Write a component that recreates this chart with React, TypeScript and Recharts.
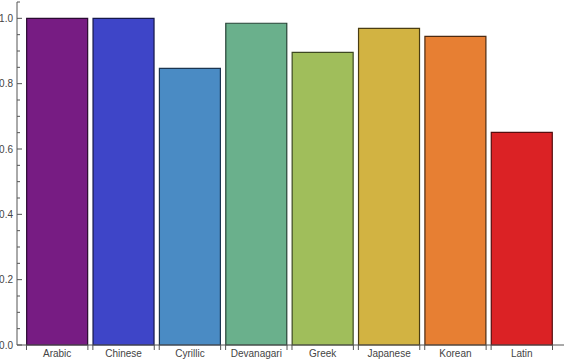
import { BarChart, Bar, Cell, XAxis, YAxis } from "recharts";

const scripts = ["Arabic", "Chinese", "Cyrillic", "Devanagari", "Greek", "Japanese", "Korean", "Latin"];
const scores = [1.0, 1.0, 0.847, 0.985, 0.896, 0.969, 0.945, 0.651];
const fills = ["#771c83", "#3e45c8", "#4a8bc4", "#6ab08c", "#a0be5b", "#d2b342", "#e77f33", "#db2225"];
const edges = ["#2a0a30", "#15184a", "#1b3550", "#274236", "#3d4822", "#4a3d12", "#4d2a10", "#550d0e"];
const yTicks = [0, 0.05, 0.1, 0.15, 0.2, 0.25, 0.3, 0.35, 0.4, 0.45, 0.5, 0.55, 0.6, 0.65, 0.7, 0.75, 0.8, 0.85, 0.9, 0.95, 1.0, 1.05];

const AXIS = "#555";
const FONT = "'Liberation Sans', Arial, sans-serif";
const HALF_BAR = 30.7;

const data = scripts.map((name, i) => ({ name, score: scores[i] }));

// y ticks: long with label on multiples of 0.2, short minor ones otherwise
function YTick(props: any) {
  const { x, y, payload } = props;
  const v = payload.value;
  const major = Math.abs(v * 5 - Math.round(v * 5)) < 1e-6;
  return (
    <g>
      <line x1={x} x2={x + (major ? 5 : 3)} y1={y} y2={y} stroke={AXIS} strokeWidth={1} />
      {major && v <= 1 && (
        <text x={x - 4} y={y} dy={3.5} textAnchor="end" fontSize={10} fill="#444" fontFamily={FONT}>
          {v.toFixed(1)}
        </text>
      )}
    </g>
  );
}

// category label plus little marks at both bar edges
function XTick(props: any) {
  const { x, y, payload } = props;
  return (
    <g>
      <line x1={x - HALF_BAR} x2={x - HALF_BAR} y1={y} y2={y + 5} stroke={AXIS} />
      <line x1={x + HALF_BAR} x2={x + HALF_BAR} y1={y} y2={y + 5} stroke={AXIS} />
      <text x={x} y={y} dy={12} textAnchor="middle" fontSize={10} fill="#444" fontFamily={FONT}>
        {payload.value}
      </text>
    </g>
  );
}

export default function App() {
  return (
    <div style={{ position: "absolute", left: 0, top: 0, width: 576, height: 361, background: "#fff" }}>
      <BarChart
        width={576}
        height={361}
        data={data}
        margin={{ top: 2, right: 12, bottom: 0, left: 0 }}
        barCategoryGap="4%"
      >
        <XAxis
          dataKey="name"
          height={16}
          tickLine={false}
          tickSize={0}
          tickMargin={0}
          axisLine={{ stroke: AXIS }}
          padding={{ left: 7, right: 9 }}
          interval={0}
          tick={<XTick />}
        />
        <YAxis
          width={17}
          domain={[0, 1.05]}
          ticks={yTicks}
          interval={0}
          tickLine={false}
          tickSize={0}
          tickMargin={0}
          axisLine={{ stroke: AXIS }}
          tick={<YTick />}
        />
        <Bar dataKey="score" isAnimationActive={false} strokeWidth={1.2}>
          {data.map((_, i) => (
            <Cell key={i} fill={fills[i]} stroke={edges[i]} />
          ))}
        </Bar>
      </BarChart>
    </div>
  );
}
